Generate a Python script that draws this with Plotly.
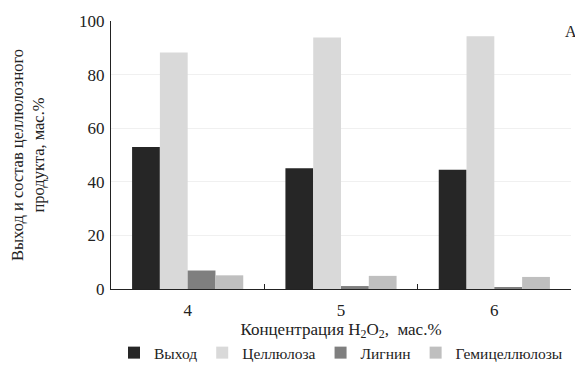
import plotly.graph_objects as go

categories = ["4", "5", "6"]
series_names = ["Выход", "Целлюлоза", "Лигнин", "Гемицеллюлозы"]
vyhod = [53.0, 45.1, 44.5]
cellulose = [88.2, 93.8, 94.3]
lignin = [6.9, 1.1, 0.7]
hemi = [5.1, 4.9, 4.5]
colors = ["#262626", "#d9d9d9", "#7f7f7f", "#bfbfbf"]
y_ticks = [0, 20, 40, 60, 80, 100]

font_family = "Liberation Serif, Times New Roman, serif"

fig = go.Figure()
for name, vals, col in zip(series_names, [vyhod, cellulose, lignin, hemi], colors):
    fig.add_trace(go.Bar(x=categories, y=vals, name=name, marker=dict(color=col, line=dict(width=0))))

# page has an 8px body margin, so the figure is sized to fit the 583x365 window
fig.update_layout(
    width=575, height=357,
    barmode="group", bargap=0.275, bargroupgap=0,
    paper_bgcolor="white", plot_bgcolor="white",
    margin=dict(l=103, r=12, t=13, b=76, autoexpand=False),
    font=dict(family=font_family, size=16, color="#222"),
    showlegend=True,
    legend=dict(orientation="h", x=0.5, xanchor="center", y=-0.239, yanchor="middle",
                font=dict(size=15.5), itemwidth=30, tracegroupgap=0, traceorder="normal"),
    xaxis=dict(type="category", showline=True, linecolor="#222", linewidth=1.3,
               ticks="inside", tickson="boundaries", ticklen=5, tickcolor="#222",
               showgrid=False, tickfont=dict(size=17), ticklabelstandoff=5, automargin=False,
               title=dict(text="Концентрация H<sub>2</sub>O<sub>2</sub>,  мас.%", standoff=0, font=dict(size=17))),
    yaxis=dict(range=[0, 100], tickvals=y_ticks, showline=True, linecolor="#222", linewidth=1.3,
               showgrid=True, gridcolor="#f0f0f0", gridwidth=1, zeroline=False,
               ticks="", tickfont=dict(size=17), ticklabelstandoff=2, automargin=False,
               title=dict(text="Выход и состав целлюлозного<br>продукта, мас.%", standoff=38, font=dict(size=16.5))),
    annotations=[dict(text="A", xref="paper", yref="paper", x=1.0, y=0.959, xanchor="right", yanchor="middle",
                      xshift=8, showarrow=False, font=dict(size=16))],
)

fig.write_html("out.html")
